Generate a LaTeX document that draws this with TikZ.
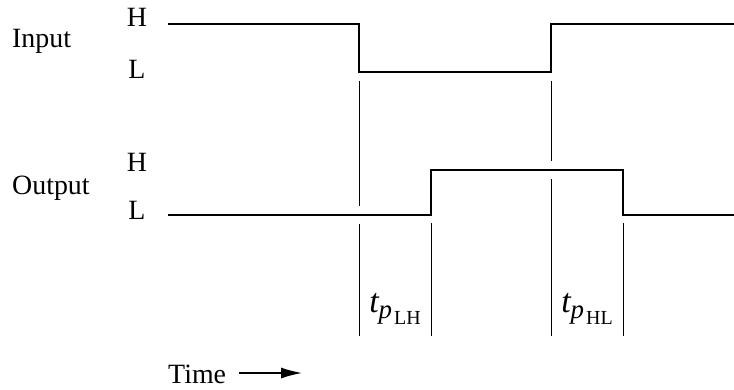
\documentclass[tikz,border=0pt]{standalone}
\usepackage{fontspec}
\setmainfont{Liberation Serif}
\usetikzlibrary{arrows.meta}
\begin{document}
\begin{tikzpicture}[x=1bp,y=-1bp,
  wave/.style={line width=2.3bp, line join=miter},
  guide/.style={line width=0.9bp},
  lbl/.style={inner sep=0, anchor=base west, font=\fontsize{28}{32}\selectfont},
  lvl/.style={inner sep=0, anchor=base, font=\fontsize{28}{32}\selectfont},
  tp/.style={inner sep=0, anchor=base}]
\useasboundingbox (0,0) rectangle (734,389);
% input waveform
\coordinate (i0) at (168,24);
\coordinate (i1) at (359,24);
\coordinate (i2) at (359,72);
\coordinate (i3) at (551,72);
\coordinate (i4) at (551,24);
\coordinate (i5) at (734,24);
\draw[wave] (i0) -- (i1) -- (i2) -- (i3) -- (i4) -- (i5);
% output waveform
\coordinate (o0) at (168,215);
\coordinate (o1) at (431,215);
\coordinate (o2) at (431,170);
\coordinate (o3) at (623,170);
\coordinate (o4) at (623,215);
\coordinate (o5) at (734,215);
\draw[wave] (o0) -- (o1) -- (o2) -- (o3) -- (o4) -- (o5);
% guide lines
\coordinate (g1a) at (359,81);  \coordinate (g1b) at (359,206);
\coordinate (g1c) at (359,224); \coordinate (g1d) at (359,336);
\coordinate (g2a) at (551,81);  \coordinate (g2b) at (551,161);
\coordinate (g2c) at (551,179); \coordinate (g2d) at (551,336);
\coordinate (g3a) at (431,223); \coordinate (g3b) at (431,336);
\coordinate (g4a) at (623,223); \coordinate (g4b) at (623,336);
\draw[guide] (g1a) -- (g1b) (g1c) -- (g1d);
\draw[guide] (g2a) -- (g2b) (g2c) -- (g2d);
\draw[guide] (g3a) -- (g3b);
\draw[guide] (g4a) -- (g4b);
% labels
\node[lbl] (inp) at (12,47) {Input};
\node[lbl] (out) at (12,194) {Output};
\node[lvl] (ih) at (137,26) {H};
\node[lvl] (il) at (137,78) {L};
\node[lvl] (oh) at (137,171) {H};
\node[lvl] (ol) at (137,219) {L};
\node[tp] (tlh) at (395,312) {{\fontsize{34}{38}\selectfont\itshape t}\raisebox{-6bp}{\fontsize{27}{30}\selectfont\itshape p}\kern2bp\raisebox{-12bp}{\fontsize{20}{22}\selectfont LH}};
\node[tp] (thl) at (587,312) {{\fontsize{34}{38}\selectfont\itshape t}\raisebox{-6bp}{\fontsize{27}{30}\selectfont\itshape p}\kern2bp\raisebox{-12bp}{\fontsize{20}{22}\selectfont HL}};
% time axis
\node[lbl] (time) at (168,383) {Time};
\coordinate (ta0) at (239,373);
\coordinate (ta1) at (302,373);
\draw[line width=1.4bp, -{Latex[length=21bp,width=11bp]}] (ta0) -- (ta1);
\end{tikzpicture}
\end{document}
